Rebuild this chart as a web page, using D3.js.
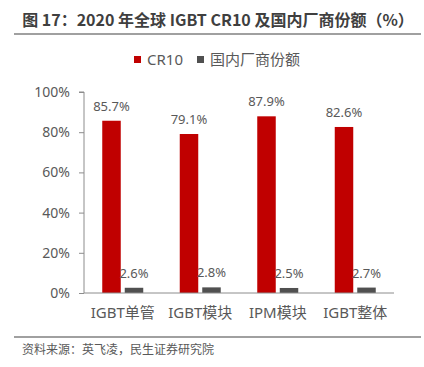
<!DOCTYPE html>
<html><head><meta charset="utf-8">
<script src="https://cdn.jsdelivr.net/npm/d3@7/dist/d3.min.js"></script>
<style>
body{margin:0;background:#fff;}
text{font-family:"Noto Sans","Noto Sans CJK SC",sans-serif;}
</style></head>
<body><svg id="c" width="424" height="367"></svg>
<script>
const categories = ["IGBT单管","IGBT模块","IPM模块","IGBT整体"];
const seriesNames = ["CR10","国内厂商份额"];
const cr10 = [85.7, 79.1, 87.9, 82.6];
const domestic = [2.6, 2.8, 2.5, 2.7];
const yTicks = [0, 20, 40, 60, 80, 100];
const colors = ["#C00000", "#505050"];

(function(){
const svg = d3.select("#c");
const mL = 84, mR = 394, mT = 92, mB = 293;

// title
svg.append("text").attr("x", 218).attr("y", 26).attr("text-anchor","middle")
  .attr("font-size", 16).attr("font-weight","bold").attr("fill","#3f3f3f")
  .style("font-family",'"Noto Sans CJK SC","Noto Sans",sans-serif')
  .text("图 17：2020 年全球 IGBT CR10 及国内厂商份额（%）");
svg.append("line").attr("x1",14).attr("x2",421).attr("y1",34).attr("y2",34)
  .attr("stroke","#808080").attr("stroke-width",1.5);

// legend
const leg = svg.append("g");
const legItems = [{x:134, name:seriesNames[0], c:colors[0]},{x:197, name:seriesNames[1], c:colors[1]}];
legItems.forEach(d=>{
  leg.append("rect").attr("x",d.x).attr("y",56).attr("width",7).attr("height",7).attr("fill",d.c);
  leg.append("text").attr("x",d.x+13).attr("y",65).attr("font-size",15).attr("fill","#595959")
    .style("font-family",'"Noto Sans","Noto Sans CJK SC",sans-serif').text(d.name);
});

const x0 = d3.scaleBand().domain(categories).range([mL, mR]).paddingInner(0).paddingOuter(0);
const y = d3.scaleLinear().domain([0,100]).range([mB, mT]);

const barW = 18.5, gap = 4;
const x1 = d3.scaleOrdinal().domain([0,1]).range([-(barW+gap/2), gap/2]);

const data = categories.map((c,i)=>({cat:c, vals:[cr10[i], domestic[i]]}));

// y axis
const yAxis = d3.axisLeft(y).tickValues(yTicks).tickFormat(d=>d+"%").tickSize(5).tickPadding(9);
const ga = svg.append("g").attr("transform",`translate(${mL},0)`).call(yAxis);
ga.select(".domain").attr("stroke","#8c8c8c").attr("d",`M-5,${mT}H0V${mB}`);
ga.selectAll(".tick line").attr("stroke","#8c8c8c");
ga.selectAll(".tick text").attr("font-size",14).attr("fill","#595959").style("font-family",'"Noto Sans",sans-serif');

// bars
const g = svg.append("g");
data.forEach(d=>{
  const cx = x0(d.cat) + x0.bandwidth()/2;
  d.vals.forEach((v,j)=>{
    const bx = cx + x1(j);
    g.append("rect").attr("x",bx).attr("y",y(v)).attr("width",barW).attr("height",mB-y(v)).attr("fill",colors[j]);
    g.append("text").attr("x",bx+barW/2).attr("y",y(v)-10).attr("text-anchor","middle")
      .attr("font-size",13).attr("fill","#595959").text(v.toFixed(1)+"%");
  });
});

// x axis
const xAxis = d3.axisBottom(x0).tickSize(0).tickPadding(14);
const gx = svg.append("g").attr("transform",`translate(0,${mB})`).call(xAxis);
gx.select(".domain").attr("stroke","#8c8c8c").attr("d",`M${mL},0H${mR}`);
gx.selectAll(".tick text").attr("font-size",15).attr("fill","#595959")
  .style("font-family",'"Noto Sans","Noto Sans CJK SC",sans-serif');

// footer
svg.append("line").attr("x1",14).attr("x2",421).attr("y1",337).attr("y2",337)
  .attr("stroke","#808080").attr("stroke-width",1.5);
svg.append("text").attr("x",22).attr("y",354).attr("font-size",12).attr("fill","#595959")
  .style("font-family",'"Noto Sans CJK SC",sans-serif').text("资料来源：英飞凌，民生证券研究院");
})();
</script></body></html>
